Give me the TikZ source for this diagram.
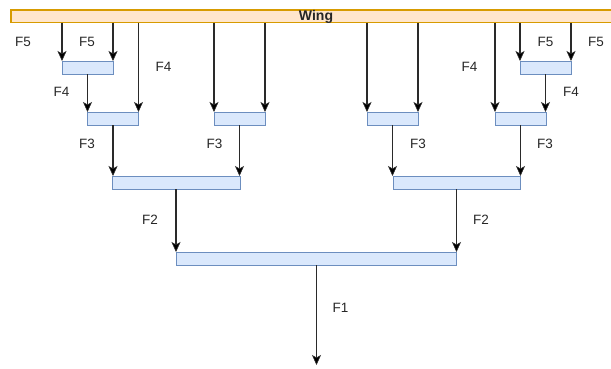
\documentclass[tikz,border=0pt]{standalone}
\usepackage{fontspec}
\setmainfont{Liberation Sans}
\usetikzlibrary{arrows.meta}
\definecolor{wingfill}{HTML}{FFE6CC}
\definecolor{wingline}{HTML}{D79B00}
\definecolor{blkfill}{HTML}{DAE8FC}
\definecolor{blkline}{HTML}{6C8EBF}
\definecolor{wire}{HTML}{2A2A2A}
\tikzset{
  blk/.style={draw=blkline, fill=blkfill, line width=1pt, minimum height=13pt,
    inner sep=0pt, outer sep=0pt, anchor=north west},
  force/.style={draw=wire, line width=1.2pt,
    -{Stealth[length=10pt,width=9pt,inset=2.5pt,fill=black,line width=0.6pt]}},
  lbl/.style={font=\fontsize{13.5}{15}\selectfont, text=black!85, inner sep=0pt}
}
\begin{document}
\begin{tikzpicture}[x=1pt,y=-1pt]
\useasboundingbox (0,0) rectangle (611,368);
% wing bar
\node[draw=wingline, fill=wingfill, line width=1.1pt, minimum width=606pt, minimum height=12.5pt,
  inner sep=0pt, outer sep=0pt, anchor=north west] (wing) at (11,10) {};
\node[font=\bfseries\fontsize{14}{15}\selectfont, text=black!85, inner sep=0pt] (wingtxt) at (316,16.5) {Wing};
% load-path blocks
\node[blk, minimum width=51pt] (a5) at (62,61) {};
\node[blk, minimum width=51pt] (a4) at (87.5,112) {};
\node[blk, minimum width=51pt] (b4) at (214,112) {};
\node[blk, minimum width=128pt] (a3) at (112,176) {};
\node[blk, minimum width=51pt] (c4) at (367,112) {};
\node[blk, minimum width=51pt] (d5) at (520,61) {};
\node[blk, minimum width=51pt] (d4) at (495,112) {};
\node[blk, minimum width=127pt] (d3) at (393,176) {};
\node[blk, minimum width=280pt] (r2) at (176.5,252) {};
\coordinate (ground) at (r2.south |- 0,365);
% forces from the wing
\draw[force] (a5.north west |- wing.south) -- (a5.north west);
\draw[force] (a5.north east |- wing.south) -- (a5.north east);
\draw[force] (a4.north east |- wing.south) -- (a4.north east);
\draw[force] (b4.north west |- wing.south) -- (b4.north west);
\draw[force] (b4.north east |- wing.south) -- (b4.north east);
\draw[force] (c4.north west |- wing.south) -- (c4.north west);
\draw[force] (c4.north east |- wing.south) -- (c4.north east);
\draw[force] (d4.north west |- wing.south) -- (d4.north west);
\draw[force] (d5.north west |- wing.south) -- (d5.north west);
\draw[force] (d5.north east |- wing.south) -- (d5.north east);
% forces between blocks
\draw[force] (a5.south) -- (a5.south |- a4.north);
\draw[force] (d5.south) -- (d5.south |- d4.north);
\draw[force] (a4.south) -- (a4.south |- a3.north);
\draw[force] (b4.south) -- (b4.south |- a3.north);
\draw[force] (c4.south) -- (c4.south |- d3.north);
\draw[force] (d4.south) -- (d4.south |- d3.north);
\draw[force] (a3.south) -- (a3.south |- r2.north);
\draw[force] (d3.south) -- (d3.south |- r2.north);
\draw[force] (r2.south) -- (ground);
% labels
\node[lbl] (l1) at (23,42) {F5};
\node[lbl] (l2) at (87,42) {F5};
\node[lbl] (l3) at (163.5,67) {F4};
\node[lbl] (l4) at (61.5,92) {F4};
\node[lbl] (l5) at (87,143.5) {F3};
\node[lbl] (l6) at (214.5,143.5) {F3};
\node[lbl] (l7) at (150,219.5) {F2};
\node[lbl] (l8) at (545.5,42) {F5};
\node[lbl] (l9) at (596,42) {F5};
\node[lbl] (l10) at (469.5,67) {F4};
\node[lbl] (l11) at (571,92) {F4};
\node[lbl] (l12) at (418,143.5) {F3};
\node[lbl] (l13) at (545,143.5) {F3};
\node[lbl] (l14) at (481,219.5) {F2};
\node[lbl] (l15) at (340.5,308) {F1};
\end{tikzpicture}
\end{document}
